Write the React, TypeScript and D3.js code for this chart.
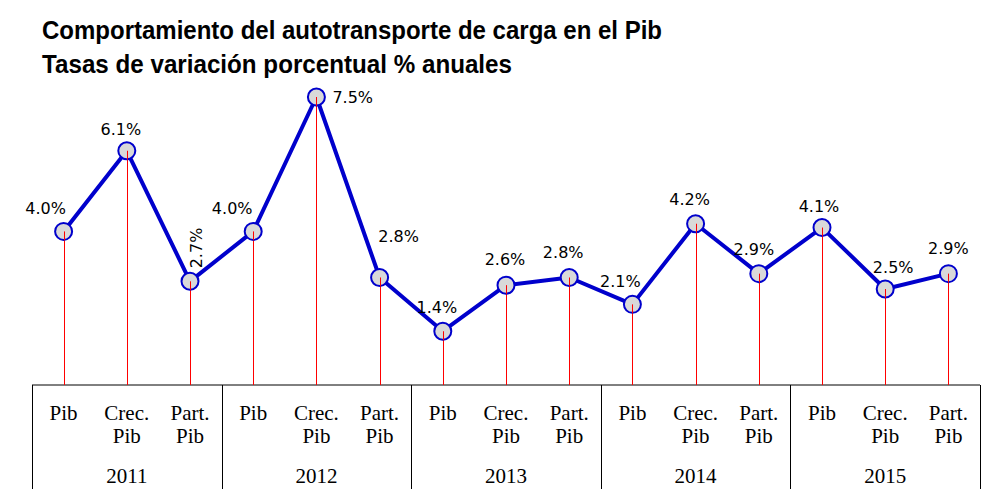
import { useMemo } from 'react'
import * as d3 from 'd3'

const WIDTH = 998
const HEIGHT = 495

const titleLines = [
  'Comportamiento del autotransporte de carga en el Pib',
  'Tasas de variación porcentual % anuales',
]

const years = ['2011', '2012', '2013', '2014', '2015']
const subCategories = [['Pib'], ['Crec.', 'Pib'], ['Part.', 'Pib']]

// percent values, one per (year, sub-category)
const values = [4.0, 6.1, 2.7, 4.0, 7.5, 2.8, 1.4, 2.6, 2.8, 2.1, 4.2, 2.9, 4.1, 2.5, 2.9]

// label placement relative to the point: [dx, dy, anchor, rotate]
const labelOffsets: [number, number, string, number][] = [
  [-18, -17, 'middle', 0],
  [-6, -16, 'middle', 0],
  [12, -13, 'start', -90],
  [-21, -17, 'middle', 0],
  [16, 6, 'start', 0],
  [19, -35, 'middle', 0],
  [-6, -18, 'middle', 0],
  [-1, -20, 'middle', 0],
  [-6, -19, 'middle', 0],
  [-12, -17, 'middle', 0],
  [-6, -19, 'middle', 0],
  [-5, -19, 'middle', 0],
  [-3, -16, 'middle', 0],
  [8, -16, 'middle', 0],
  [0, -20, 'middle', 0],
]

export default function App() {
  const margin = { left: 32, right: 18, axisY: 385, top: 97 }

  const x = useMemo(
    () =>
      d3
        .scaleBand<number>()
        .domain(d3.range(values.length))
        .range([margin.left, WIDTH - margin.right])
        .padding(0),
    []
  )
  const y = useMemo(() => d3.scaleLinear().domain([0, 7.5]).range([margin.axisY, margin.top]), [])

  const cx = (i: number) => (x(i) as number) + x.bandwidth() / 2
  const line = d3
    .line<number>()
    .x((_, i) => cx(i))
    .y(d => y(d))

  const groupWidth = x.bandwidth() * subCategories.length
  const serif = '"Liberation Serif", "DejaVu Serif", serif'
  const sans = '"DejaVu Sans", "Noto Sans", sans-serif'

  return (
    <div style={{ position: 'fixed', left: 0, top: 0 }}>
      <svg width={WIDTH} height={HEIGHT} style={{ display: 'block', background: '#fff' }}>
        {/* title */}
        {titleLines.map((t, i) => (
          <text
            key={t}
            x={42}
            y={39 + i * 34}
            fontFamily='"Liberation Sans Narrow", "Liberation Sans", Arial, sans-serif'
            fontWeight="bold"
            fontSize={26}
            textLength={i === 0 ? 620 : 470}
            lengthAdjust="spacingAndGlyphs"
            fill="#000"
          >
            {t}
          </text>
        ))}

        {/* category axis */}
        <line x1={margin.left} x2={WIDTH - margin.right} y1={margin.axisY} y2={margin.axisY} stroke="#000" strokeWidth={1} />
        {d3.range(years.length + 1).map(g => {
          const gx = Math.round(margin.left + g * groupWidth) + 0.5
          return <line key={'sep' + g} x1={gx} x2={gx} y1={margin.axisY} y2={489} stroke="#000" strokeWidth={1} />
        })}
        {values.map((_, i) => (
          <text key={'cat' + i} textAnchor="middle" fontFamily={serif} fontSize={21} fill="#000">
            {subCategories[i % 3].map((s, j) => (
              <tspan key={j} x={cx(i)} y={420 + j * 23}>
                {s}
              </tspan>
            ))}
          </text>
        ))}
        {years.map((yr, g) => (
          <text
            key={yr}
            x={margin.left + g * groupWidth + groupWidth / 2}
            y={483}
            textAnchor="middle"
            fontFamily={serif}
            fontSize={21}
            fill="#000"
          >
            {yr}
          </text>
        ))}

        {/* drop lines */}
        {values.map((v, i) => (
          <line
            key={'drop' + i}
            x1={Math.round(cx(i)) + 0.5}
            x2={Math.round(cx(i)) + 0.5}
            y1={y(v)}
            y2={margin.axisY}
            stroke="#ff0000"
            strokeWidth={1}
          />
        ))}

        {/* series */}
        <path d={line(values) ?? ''} fill="none" stroke="#0000cc" strokeWidth={4} strokeLinejoin="round" />
        {values.map((v, i) => (
          <circle key={'pt' + i} cx={cx(i)} cy={y(v)} r={8.5} fill="#d9d9d9" stroke="#0000cc" strokeWidth={2} />
        ))}
        {values.map((v, i) => (
          <line
            key={'drop2' + i}
            x1={Math.round(cx(i)) + 0.5}
            x2={Math.round(cx(i)) + 0.5}
            y1={y(v)}
            y2={y(v) + 9}
            stroke="#ff0000"
            strokeWidth={1}
          />
        ))}

        {/* value labels */}
        {values.map((v, i) => {
          const [dx, dy, anchor, rot] = labelOffsets[i]
          const lx = cx(i) + dx
          const ly = y(v) + dy
          return (
            <text
              key={'lbl' + i}
              x={lx}
              y={ly}
              textAnchor={anchor}
              transform={rot ? `rotate(${rot},${lx},${ly})` : undefined}
              fontFamily={sans}
              fontSize={16}
              fill="#000"
            >
              {v.toFixed(1) + '%'}
            </text>
          )
        })}
      </svg>
    </div>
  )
}
